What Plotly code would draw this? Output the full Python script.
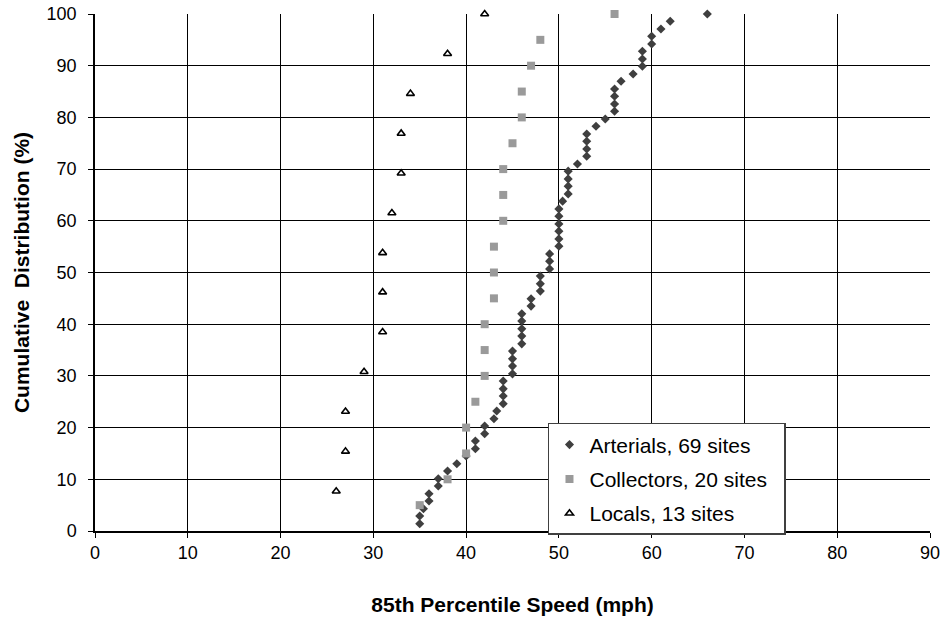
"""Cumulative distribution of 85th percentile speeds by street class."""

from typing import List

import plotly.graph_objects as go

# 85th percentile speed (mph) per site, sorted, with the cumulative share (%)
ARTERIAL_SPEEDS = [
    35, 35, 35.4, 36, 36, 37, 37, 38, 39, 40,
    41, 41, 42, 42, 43, 43.3, 44, 44, 44, 44,
    45, 45, 45, 45, 46, 46, 46, 46, 46, 47,
    47, 48, 48, 48, 49, 49, 49, 50, 50, 50,
    50, 50, 50, 50.4, 51, 51, 51, 51, 52, 53,
    53, 53, 53, 54, 55, 56, 56, 56, 56, 56.7,
    58, 59, 59, 59, 60, 60, 61, 62, 66,
]
ARTERIAL_CUM = [
    1.4, 2.9, 4.3, 5.8, 7.2, 8.7, 10.1, 11.6, 13.0, 14.5,
    15.9, 17.4, 18.8, 20.3, 21.7, 23.2, 24.6, 26.1, 27.5, 29.0,
    30.4, 31.9, 33.3, 34.8, 36.2, 37.7, 39.1, 40.6, 42.0, 43.5,
    44.9, 46.4, 47.8, 49.3, 50.7, 52.2, 53.6, 55.1, 56.5, 58.0,
    59.4, 60.9, 62.3, 63.8, 65.2, 66.7, 68.1, 69.6, 71.0, 72.5,
    73.9, 75.4, 76.8, 78.3, 79.7, 81.2, 82.6, 84.1, 85.5, 87.0,
    88.4, 89.9, 91.3, 92.8, 94.2, 95.7, 97.1, 98.6, 100.0,
]

COLLECTOR_SPEEDS = [
    35, 38, 40, 40, 41, 42, 42, 42, 43, 43,
    43, 44, 44, 44, 45, 46, 46, 47, 48, 56,
]
COLLECTOR_CUM = [
    5, 10, 15, 20, 25, 30, 35, 40, 45, 50,
    55, 60, 65, 70, 75, 80, 85, 90, 95, 100,
]

LOCAL_SPEEDS = [26, 27, 27, 29, 31, 31, 31, 32, 33, 33, 34, 38, 42]
LOCAL_CUM = [7.7, 15.4, 23.1, 30.8, 38.5, 46.2, 53.8, 61.5, 69.2, 76.9, 84.6, 92.3, 100.0]

X_TICKS = [0, 10, 20, 30, 40, 50, 60, 70, 80, 90]
Y_TICKS = [0, 10, 20, 30, 40, 50, 60, 70, 80, 90, 100]

FONT = "Liberation Sans, Arial, sans-serif"
PAD = "\u00a0\u00a0"  # widens the legend box a little


def make_series(
    name: str, speeds: List[float], cum: List[float], marker: dict, group: str
) -> go.Scatter:
    """Build one marker-only series."""
    return go.Scatter(
        x=speeds,
        y=cum,
        mode="markers",
        name=name,
        marker=marker,
        legendgroup=group,
        cliponaxis=False,
    )


def build_figure() -> go.Figure:
    """Assemble the cumulative distribution chart."""
    fig = go.Figure()

    fig.add_trace(
        make_series(
            "Arterials, 69 sites",
            ARTERIAL_SPEEDS,
            ARTERIAL_CUM,
            dict(symbol="diamond", size=7, color="#3f3f3f"),
            "a",
        )
    )
    fig.add_trace(
        make_series(
            "Collectors, 20 sites" + PAD,
            COLLECTOR_SPEEDS,
            COLLECTOR_CUM,
            dict(symbol="square", size=8, color="#9a9a9a"),
            "c",
        )
    )
    fig.add_trace(
        make_series(
            "Locals, 13 sites",
            LOCAL_SPEEDS,
            LOCAL_CUM,
            dict(
                symbol="triangle-up-open",
                size=7,
                color="#000000",
                line=dict(color="#000000", width=1.6),
            ),
            "l",
        )
    )

    axis_common = dict(
        showgrid=True,
        gridcolor="#000000",
        gridwidth=1,
        showline=True,
        linecolor="#000000",
        linewidth=1.5,
        ticks="outside",
        ticklen=5,
        tickcolor="#000000",
        zeroline=False,
        tickfont=dict(family=FONT, size=18, color="#000000"),
        ticklabeloverflow="allow",
        automargin=False,
    )

    fig.update_xaxes(
        range=[0, 90],
        tickvals=X_TICKS,
        ticktext=[str(v) for v in X_TICKS],
        title=dict(
            text="<b>85th Percentile Speed (mph)</b>",
            font=dict(family=FONT, size=21, color="#000000"),
            standoff=35,
        ),
        **axis_common,
    )
    fig.update_yaxes(
        range=[0, 100],
        tickvals=Y_TICKS,
        ticktext=[str(v) for v in Y_TICKS],
        ticklabelstandoff=8,
        title=dict(
            text="<b>Cumulative  Distribution (%)</b>",
            font=dict(family=FONT, size=21, color="#000000"),
            standoff=11,
        ),
        **axis_common,
    )

    fig.update_layout(
        width=943,
        height=623,
        margin=dict(l=95, r=13, t=14, b=92),
        paper_bgcolor="#ffffff",
        plot_bgcolor="#ffffff",
        font=dict(family=FONT, color="#000000"),
        showlegend=True,
        legend=dict(
            x=0.5425,
            y=0.209,
            xanchor="left",
            yanchor="top",
            bgcolor="#ffffff",
            bordercolor="#404040",
            borderwidth=1.5,
            font=dict(family=FONT, size=21, color="#000000"),
            traceorder="grouped",
            tracegroupgap=4,
            itemsizing="trace",
        ),
    )

    return fig


fig = build_figure()
# drop the browser's default body margin so the figure sits at the page corner
fig.write_html(
    "out.html",
    config={"displayModeBar": False},
    post_script="document.body.style.margin = '0';",
)
